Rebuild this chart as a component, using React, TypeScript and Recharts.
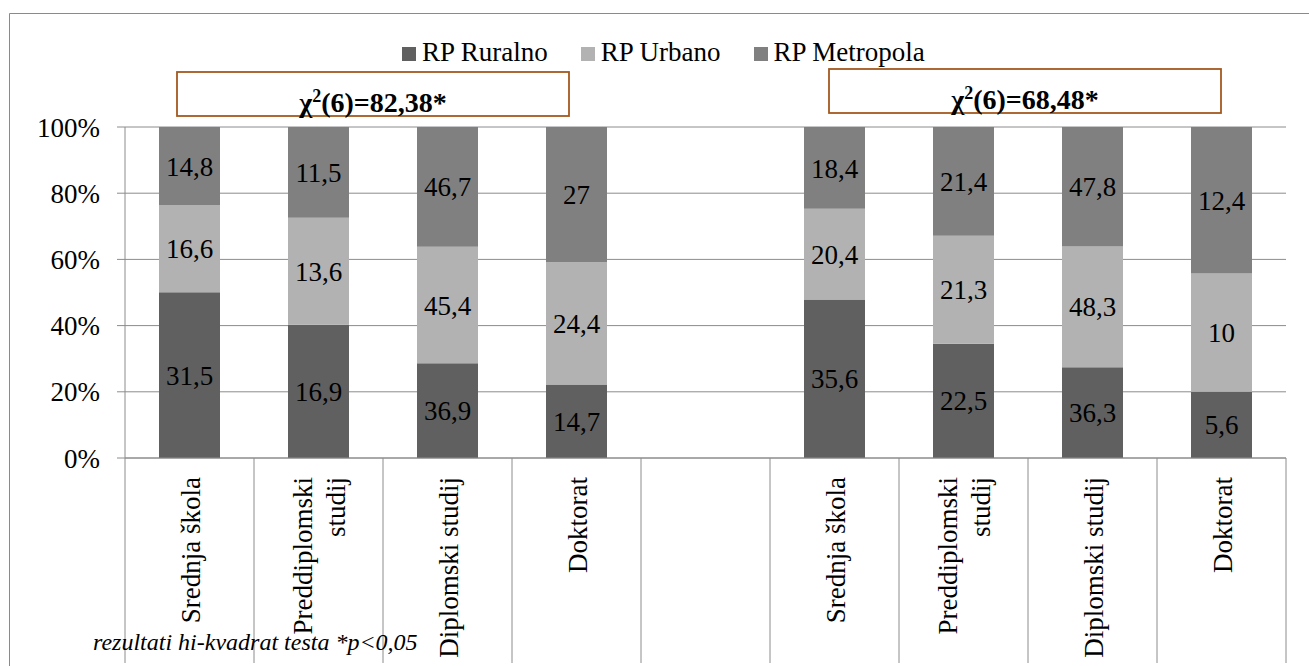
import React from "react";
import {
  Bar,
  BarChart,
  CartesianGrid,
  LabelList,
  Legend,
  XAxis,
  YAxis,
} from "recharts";

const categories = [
  "Srednja škola",
  "Preddiplomski\nstudij",
  "Diplomski studij",
  "Doktorat",
  "",
  "Srednja škola",
  "Preddiplomski\nstudij",
  "Diplomski studij",
  "Doktorat",
];

const ruralno = [31.5, 16.9, 36.9, 14.7, null, 35.6, 22.5, 36.3, 5.6];
const urbano = [16.6, 13.6, 45.4, 24.4, null, 20.4, 21.3, 48.3, 10];
const metropola = [14.8, 11.5, 46.7, 27, null, 18.4, 21.4, 47.8, 12.4];

const yTicks = [0, 0.2, 0.4, 0.6, 0.8, 1];

const chiLeft = "82,38";
const chiRight = "68,48";
const footnote = "rezultati hi-kvadrat testa *p<0,05";

const SERIES = [
  { key: "ruralno", name: "RP Ruralno", color: "#606060" },
  { key: "urbano", name: "RP Urbano", color: "#b2b2b2" },
  { key: "metropola", name: "RP Metropola", color: "#808080" },
];

const data = categories.map((name, i) => ({
  name,
  ruralno: ruralno[i],
  urbano: urbano[i],
  metropola: metropola[i],
}));

const W = 1309;
const H = 666;
const MARGIN = { top: 127, right: 23, bottom: 0, left: 10 };
const Y_W = 115;
const X_H = 208;
const FONT = "Liberation Serif, serif";
const GRID = "#8c8c8c";
const BAND = (W - MARGIN.left - Y_W - MARGIN.right) / categories.length;

const fmt = (v: unknown) =>
  v == null || v === "" ? "" : String(v).replace(".", ",");

// rotated category label plus the divider lines that run down through the label area
function CategoryTick(props: any) {
  const { x, y, payload, index } = props;
  const lines = String(payload.value).split("\n");
  const n = lines.length;
  return (
    <g>
      <line x1={x - BAND / 2} y1={y} x2={x - BAND / 2} y2={663} stroke={GRID} />
      {index === categories.length - 1 && (
        <line x1={x + BAND / 2} y1={y} x2={x + BAND / 2} y2={663} stroke={GRID} />
      )}
      <g transform={`translate(${x},${y})`}>
        <text
          transform="rotate(-90)"
          textAnchor="end"
          fontFamily={FONT}
          fontSize={27}
          fill="#000"
        >
          {lines.map((l, i) => (
            <tspan key={i} x={-19} y={10 + (i - (n - 1) / 2) * 33}>
              {l}
            </tspan>
          ))}
        </text>
      </g>
    </g>
  );
}

function LegendContent() {
  return (
    <div
      style={{
        display: "flex",
        alignItems: "center",
        fontFamily: FONT,
        fontSize: 27,
        lineHeight: "27px",
        color: "#000",
        whiteSpace: "nowrap",
      }}
    >
      {SERIES.map((s) => (
        <div key={s.key} style={{ display: "flex", alignItems: "center", marginRight: 33 }}>
          <span
            style={{ width: 14, height: 14, background: s.color, marginRight: 6, marginTop: 2 }}
          />
          {s.name}
        </div>
      ))}
    </div>
  );
}

function ChiBox({ x, y, value }: { x: number; y: number; value: string }) {
  return (
    <g>
      <rect x={x} y={y} width={392} height={44} fill="#fff" stroke="#a3591f" strokeWidth={1.8} />
      <text
        x={x + 196}
        y={y + 40}
        textAnchor="middle"
        fontFamily={FONT}
        fontWeight="bold"
        fontSize={28}
        fill="#000"
      >
        χ
        <tspan dy={-10} fontSize={18}>
          2
        </tspan>
        <tspan dy={10}>(6)={value}*</tspan>
      </text>
    </g>
  );
}

export default function App() {
  return (
    <div
      style={{
        position: "absolute",
        left: 0,
        top: 0,
        width: W,
        height: H,
        overflow: "hidden",
        background: "#fff",
      }}
    >
      <BarChart
        width={W}
        height={H}
        data={data}
        margin={MARGIN}
        stackOffset="expand"
        barSize={61}
      >
        <CartesianGrid vertical={false} stroke={GRID} />
        <XAxis
          dataKey="name"
          interval={0}
          height={X_H}
          tickLine={false}
          tickSize={0}
          tickMargin={0}
          axisLine={{ stroke: GRID }}
          tick={<CategoryTick />}
        />
        <YAxis
          width={Y_W}
          domain={[0, 1]}
          ticks={yTicks}
          tickFormatter={(v) => `${Math.round(v * 100)}%`}
          tickSize={8}
          tickMargin={17}
          axisLine={{ stroke: GRID }}
          tickLine={{ stroke: GRID }}
          tick={{ fill: "#000", fontSize: 27, fontFamily: FONT }}
        />
        <Legend
          verticalAlign="middle"
          align="center"
          content={<LegendContent />}
          wrapperStyle={{ left: 402, top: 39, width: "auto" }}
        />
        {SERIES.map((s) => (
          <Bar
            key={s.key}
            dataKey={s.key}
            name={s.name}
            stackId="a"
            fill={s.color}
            isAnimationActive={false}
          >
            <LabelList
              dataKey={s.key}
              position="center"
              formatter={fmt}
              fill="#000"
              fontSize={27}
              fontFamily={FONT}
            />
          </Bar>
        ))}
      </BarChart>
      <svg
        width={W}
        height={H}
        style={{ position: "absolute", left: 0, top: 0, pointerEvents: "none" }}
      >
        <line x1={9.5} y1={13.5} x2={W} y2={13.5} stroke="#8a8a8a" />
        <line x1={9.5} y1={13.5} x2={9.5} y2={H} stroke="#8a8a8a" />
        <ChiBox x={177} y={72} value={chiLeft} />
        <ChiBox x={829} y={69} value={chiRight} />
        <text x={93} y={650} fontFamily={FONT} fontStyle="italic" fontSize={24} fill="#000">
          {footnote}
        </text>
      </svg>
    </div>
  );
}
